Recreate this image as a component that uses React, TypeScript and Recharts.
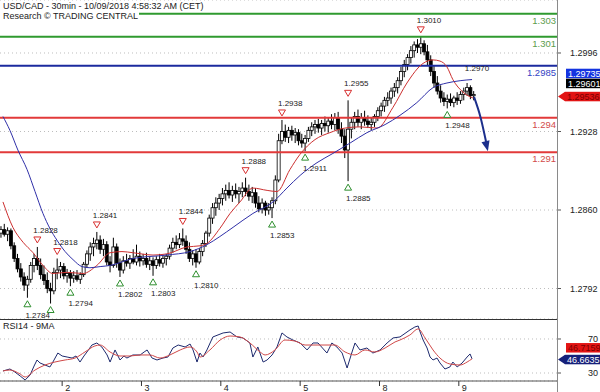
import React from 'react';
import { ComposedChart, Bar, Line, XAxis, YAxis, CartesianGrid, ReferenceLine, ReferenceDot } from 'recharts';

const FONT = 'Arial, "Liberation Sans", sans-serif';

// time axis: trading hours since Mon 1 Oct 00:00 (weekend skipped), one candle per hour
const firstBarHour = 5.5;
const timeDomain: [number, number] = [5.2, 173.7];
const dayTicks = [24, 48, 72, 96, 120, 144];
const dayLabels = ['2', '3', '4', '5', '8', '9'];

const candleOpen = [
  1.2840, 1.2843, 1.2839, 1.2842, 1.2829, 1.2818, 1.2809, 1.2802, 1.2795, 1.2800, 1.2812, 1.2818,
  1.2812, 1.2804, 1.2799, 1.2792, 1.2790, 1.2806, 1.2808, 1.2811, 1.2803, 1.2805, 1.2801, 1.2803,
  1.2800, 1.2804, 1.2813, 1.2822, 1.2828, 1.2831, 1.2834, 1.2826, 1.2830, 1.2815, 1.2812, 1.2828,
  1.2814, 1.2808, 1.2816, 1.2814, 1.2818, 1.2815, 1.2820, 1.2816, 1.2818, 1.2813, 1.2816, 1.2812,
  1.2817, 1.2814, 1.2818, 1.2820, 1.2827, 1.2832, 1.2830, 1.2835, 1.2833, 1.2826, 1.2818, 1.2822,
  1.2815, 1.2824, 1.2831, 1.2840, 1.2853, 1.2862, 1.2866, 1.2870, 1.2874, 1.2877, 1.2873, 1.2877,
  1.2874, 1.2876, 1.2879, 1.2876, 1.2872, 1.2875, 1.2866, 1.2861, 1.2866, 1.2860, 1.2862, 1.2868,
  1.2886, 1.2920, 1.2928, 1.2923, 1.2929, 1.2925, 1.2927, 1.2920, 1.2918, 1.2922, 1.2929, 1.2932,
  1.2934, 1.2931, 1.2935, 1.2933, 1.2937, 1.2934, 1.2940, 1.2930, 1.2924, 1.2912, 1.2930, 1.2936,
  1.2941, 1.2936, 1.2940, 1.2937, 1.2934, 1.2936, 1.2941, 1.2946, 1.2950, 1.2955, 1.2957, 1.2963,
  1.2966, 1.2972, 1.2980, 1.2986, 1.2992, 1.2998, 1.3003, 1.3001, 1.3004, 1.2997, 1.2990, 1.2980,
  1.2970, 1.2963, 1.2957, 1.2954, 1.2956, 1.2953, 1.2957, 1.2955, 1.2960, 1.2963, 1.2966, 1.2959,
];
const candleHigh = [
  1.2846, 1.2848, 1.2845, 1.2844, 1.2832, 1.2822, 1.2814, 1.2806, 1.2803, 1.2815, 1.2822, 1.2828,
  1.2818, 1.2812, 1.2806, 1.2797, 1.2810, 1.2818, 1.2815, 1.2814, 1.2809, 1.2808, 1.2807, 1.2808,
  1.2806, 1.2815, 1.2825, 1.2832, 1.2836, 1.2841, 1.2838, 1.2835, 1.2833, 1.2820, 1.2836, 1.2831,
  1.2818, 1.2820, 1.2822, 1.2821, 1.2826, 1.2830, 1.2824, 1.2822, 1.2823, 1.2820, 1.2819, 1.2820,
  1.2822, 1.2821, 1.2822, 1.2830, 1.2836, 1.2838, 1.2840, 1.2844, 1.2838, 1.2832, 1.2825, 1.2826,
  1.2827, 1.2834, 1.2842, 1.2856, 1.2866, 1.2871, 1.2874, 1.2879, 1.2882, 1.2884, 1.2881, 1.2883,
  1.2880, 1.2884, 1.2888, 1.2882, 1.2880, 1.2879, 1.2872, 1.2870, 1.2868, 1.2866, 1.2871, 1.2890,
  1.2926, 1.2938, 1.2934, 1.2932, 1.2933, 1.2931, 1.2930, 1.2926, 1.2925, 1.2932, 1.2936, 1.2938,
  1.2939, 1.2938, 1.2941, 1.2940, 1.2943, 1.2944, 1.2945, 1.2936, 1.2930, 1.2955, 1.2940, 1.2945,
  1.2947, 1.2944, 1.2946, 1.2942, 1.2940, 1.2943, 1.2949, 1.2953, 1.2958, 1.2962, 1.2966, 1.2970,
  1.2975, 1.2984, 1.2990, 1.2995, 1.3002, 1.3006, 1.3008, 1.3010, 1.3007, 1.3003, 1.2994, 1.2985,
  1.2976, 1.2968, 1.2962, 1.2960, 1.2961, 1.2959, 1.2962, 1.2963, 1.2966, 1.2970, 1.2968, 1.2963,
];
const candleLow = [
  1.2836, 1.2837, 1.2833, 1.2826, 1.2815, 1.2806, 1.2798, 1.2790, 1.2784, 1.2797, 1.2806, 1.2808,
  1.2800, 1.2795, 1.2788, 1.2779, 1.2787, 1.2800, 1.2801, 1.2800, 1.2797, 1.2794, 1.2797, 1.2798,
  1.2796, 1.2802, 1.2810, 1.2816, 1.2820, 1.2826, 1.2822, 1.2820, 1.2812, 1.2806, 1.2810, 1.2810,
  1.2802, 1.2805, 1.2811, 1.2809, 1.2813, 1.2812, 1.2811, 1.2812, 1.2810, 1.2808, 1.2803, 1.2809,
  1.2811, 1.2810, 1.2812, 1.2817, 1.2823, 1.2826, 1.2827, 1.2829, 1.2822, 1.2815, 1.2812, 1.2810,
  1.2813, 1.2820, 1.2828, 1.2837, 1.2848, 1.2855, 1.2860, 1.2864, 1.2868, 1.2870, 1.2867, 1.2870,
  1.2866, 1.2871, 1.2872, 1.2868, 1.2866, 1.2862, 1.2858, 1.2857, 1.2855, 1.2856, 1.2853, 1.2865,
  1.2884, 1.2917, 1.2919, 1.2918, 1.2920, 1.2918, 1.2916, 1.2914, 1.2911, 1.2919, 1.2924, 1.2926,
  1.2927, 1.2925, 1.2928, 1.2927, 1.2930, 1.2929, 1.2926, 1.2918, 1.2905, 1.2885, 1.2922, 1.2930,
  1.2932, 1.2930, 1.2933, 1.2931, 1.2929, 1.2932, 1.2937, 1.2941, 1.2945, 1.2950, 1.2952, 1.2958,
  1.2961, 1.2968, 1.2975, 1.2981, 1.2987, 1.2992, 1.2996, 1.2995, 1.2994, 1.2985, 1.2976, 1.2966,
  1.2960, 1.2953, 1.2950, 1.2948, 1.2950, 1.2949, 1.2951, 1.2952, 1.2955, 1.2959, 1.2956, 1.2955,
];
const candleClose = [
  1.2843, 1.2839, 1.2842, 1.2829, 1.2818, 1.2809, 1.2802, 1.2795, 1.2800, 1.2812, 1.2818, 1.2812,
  1.2804, 1.2799, 1.2792, 1.2790, 1.2806, 1.2808, 1.2811, 1.2803, 1.2805, 1.2801, 1.2803, 1.2800,
  1.2804, 1.2813, 1.2822, 1.2828, 1.2831, 1.2834, 1.2826, 1.2830, 1.2815, 1.2812, 1.2828, 1.2814,
  1.2808, 1.2816, 1.2814, 1.2818, 1.2815, 1.2820, 1.2816, 1.2818, 1.2813, 1.2816, 1.2812, 1.2817,
  1.2814, 1.2818, 1.2820, 1.2827, 1.2832, 1.2830, 1.2835, 1.2833, 1.2826, 1.2818, 1.2822, 1.2815,
  1.2824, 1.2831, 1.2840, 1.2853, 1.2862, 1.2866, 1.2870, 1.2874, 1.2877, 1.2873, 1.2877, 1.2874,
  1.2876, 1.2879, 1.2876, 1.2872, 1.2875, 1.2866, 1.2861, 1.2866, 1.2860, 1.2862, 1.2868, 1.2886,
  1.2920, 1.2928, 1.2923, 1.2929, 1.2925, 1.2927, 1.2920, 1.2918, 1.2922, 1.2929, 1.2932, 1.2934,
  1.2931, 1.2935, 1.2933, 1.2937, 1.2934, 1.2940, 1.2930, 1.2924, 1.2912, 1.2930, 1.2936, 1.2941,
  1.2936, 1.2940, 1.2937, 1.2934, 1.2936, 1.2941, 1.2946, 1.2950, 1.2955, 1.2957, 1.2963, 1.2966,
  1.2972, 1.2980, 1.2986, 1.2992, 1.2998, 1.3003, 1.3001, 1.3004, 1.2997, 1.2990, 1.2980, 1.2970,
  1.2963, 1.2957, 1.2954, 1.2956, 1.2953, 1.2957, 1.2955, 1.2960, 1.2963, 1.2966, 1.2959, 1.2960,
];

// moving averages (red = fast, blue = slow)
const maFastT = [6.1, 9.1, 12.2, 15.2, 18.2, 21.2, 25.5, 30.3, 34.5, 38.5, 42.1, 45.4, 51.5, 55.7, 61.8, 65.7, 67.8, 71.7, 74.8, 77.8, 81.7, 86, 89, 92.9, 95.9, 100.5, 105, 109.6, 114.1, 119.3, 124.1, 128.3, 133.2, 136.2, 138.3, 140.4, 142.2, 145.3, 148.3];
const maFastP = [1.2867, 1.2845, 1.2832, 1.2823, 1.2812, 1.2805, 1.2806, 1.2805, 1.2812, 1.2823, 1.2824, 1.2823, 1.2821, 1.2822, 1.2828, 1.2829, 1.2831, 1.2844, 1.2857, 1.2867, 1.2879, 1.2877, 1.2876, 1.2895, 1.2908, 1.2921, 1.2927, 1.2931, 1.2932, 1.2931, 1.2949, 1.2970, 1.2987, 1.2990, 1.2989, 1.2984, 1.2973, 1.2962, 1.2957];
const maSlowT = [6.1, 8.2, 10.6, 13.4, 15.8, 18.2, 20.3, 22.4, 24.9, 27.3, 30, 32.4, 35.5, 38.5, 45.4, 55.7, 62.7, 67.8, 71.7, 75.7, 81.7, 87.8, 92, 96, 101.1, 105.9, 111.1, 116.2, 121.7, 126.2, 131.3, 136.2, 140.4, 144.4, 148];
const maSlowP = [1.2941, 1.2929, 1.2912, 1.2895, 1.2876, 1.2857, 1.2844, 1.2834, 1.2824, 1.2817, 1.2811, 1.2810, 1.2811, 1.2812, 1.2818, 1.2821, 1.2824, 1.2830, 1.2837, 1.2845, 1.2857, 1.2867, 1.2879, 1.2890, 1.2901, 1.2909, 1.2918, 1.2927, 1.2934, 1.2942, 1.2953, 1.2966, 1.2970, 1.2972, 1.2973];

// pivots
const highT = [16.5, 22.5, 34.5, 60.5, 79.5, 90.5, 110.5, 132.5];
const highP = [1.2828, 1.2818, 1.2841, 1.2844, 1.2888, 1.2938, 1.2955, 1.3010];
const lowT = [13.5, 20.5, 26.5, 41.5, 51.5, 64.5, 87.5, 97.5, 110.5, 140.5];
const lowP = [1.2784, 1.2779, 1.2794, 1.2802, 1.2803, 1.2810, 1.2853, 1.2911, 1.2885, 1.2948];

// support / resistance levels
const levelP = [1.303, 1.301, 1.2985, 1.294, 1.291];
const levelText = ['1.303', '1.301', '1.2985', '1.294', '1.291'];
const levelStroke = ['#2f9a2f', '#2f9a2f', '#1b2a9e', '#e23a3a', '#e23a3a'];
const levelTextColor = ['#5c9c4c', '#5c9c4c', '#3444c4', '#d24a4a', '#d24a4a'];

const targetT = 149.5;
const targetP = 1.2970;

// forecast arrow
const arrowT = [148.6, 150.6, 152.4];
const arrowP = [1.2958, 1.2940, 1.2917];
const arrowTip = { t: 152.8, p: 1.2911 };

const priceTicks = [1.2792, 1.2860, 1.2928, 1.2996];
const priceDomain: [number, number] = [1.27656, 1.30419];

// last value tags
const priceTagP = [1.29735, 1.29601, 1.29536];
const priceTagBg = ['#1434e0', '#000000', '#e21414'];
const priceTagFg = ['#ffffff', '#ffffff', '#7a0000'];
const priceTagDy = [-5.5, -11, -5.4];
const priceTagArrow = [false, false, true];

// RSI
const rsiT = [6.1, 8.2, 9.7, 11.3, 12.8, 14.3, 15.5, 16.4, 17.3, 18.8, 20.3, 21.2, 22.7, 24, 25.5, 27, 28.2, 29.4, 30.6, 31.5, 33, 34.5, 36, 37.6, 38.5, 40, 41.5, 42.7, 43.6, 45.4, 47.6, 48.8, 49.7, 51.2, 52.7, 54.5, 56, 57.5, 59.1, 61.2, 62.7, 63.6, 64.8, 65.7, 66.6, 67.8, 69.6, 72.7, 74.8, 76.9, 78.7, 80.8, 81.7, 83.2, 84.8, 86, 87.5, 89, 90.5, 92, 93.8, 96, 98.1, 99.9, 101.4, 104.1, 105.6, 107.1, 108.7, 110.2, 111.7, 112.6, 114.1, 116.2, 118, 120.2, 122.3, 124.1, 126.2, 129.2, 130.7, 131.7, 132.3, 133.2, 134.4, 135.3, 136.2, 137.4, 138.3, 139.8, 141.3, 142.2, 143.5, 145, 146.5, 147.4, 148];
const rsiV = [32.4, 34.7, 31.2, 26.5, 21.8, 27.6, 38.2, 45.3, 41.8, 39.4, 37.1, 42.9, 53.5, 50, 48.8, 47.6, 50, 42.9, 50, 54.7, 62.9, 65.3, 60.6, 51.2, 42.9, 57.1, 45.3, 50, 47.6, 51.2, 51.2, 54.7, 57.1, 47.6, 45.3, 47.6, 48.8, 59.4, 62.9, 60.6, 64.1, 57.1, 42.9, 53.5, 48.8, 57.1, 72.4, 77.1, 78.2, 72.4, 71.2, 65.3, 48.8, 60.6, 42.9, 45.3, 51.2, 60.6, 77.1, 72.4, 68.8, 65.3, 57.1, 65.3, 65.3, 53.5, 65.3, 60.6, 53.5, 35.9, 54.7, 65.3, 57.1, 59.4, 53.5, 57.1, 65.3, 71.2, 72.4, 80.6, 84.1, 85.3, 78.2, 68.8, 59.4, 48.8, 45.3, 47.6, 41.8, 34.7, 37.1, 42.9, 37.1, 41.8, 48.8, 52.4, 46.7];
const rsiMaT = [6.1, 8.2, 11.3, 12.8, 15.8, 18.8, 21.8, 24.9, 27.9, 30.9, 33.9, 35.5, 38.5, 41.5, 44.5, 47.6, 50.6, 53.6, 56.6, 59.7, 62.7, 64.8, 65.7, 68.7, 71.8, 74.8, 77.8, 80.8, 83.9, 85.4, 88.4, 91.4, 94.4, 97.5, 100.5, 103.5, 106.5, 109.6, 112.6, 115.6, 118.6, 121.7, 124.7, 126.2, 129.2, 131.7, 133.8, 136.2, 138.3, 141.3, 144.4, 146.5, 148];
const rsiMaV = [32.4, 33.5, 28.8, 25.3, 33.5, 39.4, 42.9, 45.3, 47.6, 54.7, 61.8, 62.9, 54.7, 50, 50, 51.2, 51.2, 47.6, 51.2, 57.1, 60.6, 54.7, 48.8, 57.1, 68.8, 73.5, 72.4, 65.3, 54.7, 51.2, 57.1, 68.8, 67.6, 62.9, 62.9, 62.9, 62.9, 54.7, 51.2, 57.1, 54.7, 59.4, 66.5, 68.8, 74.7, 81.8, 71.2, 57.1, 47.6, 40.6, 39.4, 42.9, 46.7];
const rsiTicks = [30, 50, 70];
const rsiDomain: [number, number] = [20.6, 93.5];
const rsiTagV = [46.7159, 46.6635];
const rsiTagBg = ['#e21414', '#15207a'];
const rsiTagFg = ['#7a0000', '#ffffff'];
const rsiTagDy = [-11, 0.7];
const rsiTagArrow = [false, true];

const MAIN_H = 319;

const candles = candleOpen.map((o, i) => ({
  t: firstBarHour + i, o, h: candleHigh[i], l: candleLow[i], c: candleClose[i],
}));
const maFast = maFastT.map((t, i) => ({ t, v: maFastP[i] }));
const maSlow = maSlowT.map((t, i) => ({ t, v: maSlowP[i] }));
const arrowLine = arrowT.map((t, i) => ({ t, v: arrowP[i] }));
const rsi = rsiT.map((t, i) => ({ t, v: rsiV[i] }));
const rsiMa = rsiMaT.map((t, i) => ({ t, v: rsiMaV[i] }));

const Candle = (props: any) => {
  const { x, y, width, height, payload } = props;
  if (!payload || height == null) return null;
  const top = Math.min(y, y + height);
  const span = Math.abs(height);
  const { o, h, l, c } = payload;
  const py = (v: number) => top + (h === l ? 0 : ((h - v) / (h - l)) * span);
  const cx = x + width / 2;
  const yo = py(o);
  const yc = py(c);
  const bt = Math.min(yo, yc);
  const bh = Math.max(1, Math.abs(yo - yc));
  const up = c >= o;
  return (
    <g>
      <line x1={cx} x2={cx} y1={top} y2={top + span} stroke="#000" strokeWidth={1} />
      <rect x={cx - 1.5} y={bt} width={3} height={bh} fill={up ? '#fff' : '#000'} stroke="#000" strokeWidth={0.8} />
    </g>
  );
};

const HighMark = ({ cx, cy, text }: any) => (
  <g>
    <polygon points={`${cx - 3.5},${cy - 10} ${cx + 3.5},${cy - 10} ${cx},${cy - 4}`} fill="#fff" stroke="#d83030" strokeWidth={1} />
    <text x={cx - 4} y={cy - 14} fontSize={8} fill="#222" fontFamily={FONT}>{text}</text>
  </g>
);

// the label of a low that sits on the panel's bottom edge is cut off in the original
const LowMark = ({ cx, cy, text }: any) => (
  <g>
    <polygon points={`${cx - 3.5},${cy + 9} ${cx + 3.5},${cy + 9} ${cx},${cy + 3}`} fill="#fff" stroke="#2f8f2f" strokeWidth={1} />
    {cy + 20 <= MAIN_H && (
      <text x={cx - 2} y={cy + 20} fontSize={8} fill="#222" fontFamily={FONT}>{text}</text>
    )}
  </g>
);

const LevelLabel = ({ viewBox, text, color }: any) => {
  if (!viewBox) return null;
  return (
    <text x={viewBox.x + viewBox.width - 1} y={viewBox.y + 10} textAnchor="end" fontSize={9.5} fill={color} fontFamily={FONT}>
      {text}
    </text>
  );
};

const ValueTag = ({ viewBox, text, bg, fg, dy, arrow }: any) => {
  if (!viewBox) return null;
  const right = viewBox.x + viewBox.width;
  const cy = viewBox.y + dy;
  const x0 = right + (arrow ? 8 : 9);
  return (
    <g>
      {arrow && <polygon points={`${right + 1},${cy} ${x0},${cy - 4.75} ${x0},${cy + 4.75}`} fill={bg} />}
      <rect x={x0} y={cy - 4.75} width={600 - x0} height={9.5} fill={bg} />
      <text x={x0 + 2} y={cy + 3.3} fontSize={9} fill={fg} fontFamily={FONT}>{text}</text>
    </g>
  );
};

const DayTick = ({ x, y, payload }: any) => (
  <g>
    <line x1={x} x2={x} y1={y} y2={y + 5} stroke="#333" />
    <text x={x + 3} y={y + 10} fontSize={9} fill="#222" fontFamily={FONT}>
      {dayLabels[dayTicks.indexOf(payload.value)]}
    </text>
  </g>
);

const RsiTick = ({ x, y, payload }: any) =>
  payload.value === 50 ? <g /> : (
    <text x={x} y={y + 3} fontSize={9} fill="#222" fontFamily={FONT}>{payload.value}</text>
  );

export default function App() {
  return (
    <div style={{ position: 'absolute', left: 0, top: 0, width: 600, height: 392, background: '#fff', fontFamily: FONT, overflow: 'hidden' }}>
      <div style={{ position: 'absolute', left: 0, top: 0 }}>
        <ComposedChart width={600} height={MAIN_H} data={candles} margin={{ top: 0, right: 0, bottom: 0, left: 0 }}>
          <CartesianGrid vertical={false} stroke="#bdbdbd" strokeDasharray="1 3" />
          <XAxis type="number" dataKey="t" domain={timeDomain} hide allowDataOverflow />
          <YAxis
            orientation="right"
            width={43}
            domain={priceDomain}
            ticks={priceTicks}
            allowDataOverflow
            axisLine={false}
            tickLine={{ stroke: '#555' }}
            tickSize={4}
            tickMargin={9}
            tickFormatter={(v: number) => v.toFixed(4)}
            tick={{ fontSize: 9, fill: '#222', fontFamily: FONT }}
          />
          {levelP.map((p, i) => (
            <ReferenceLine key={'lv' + i} y={p} stroke={levelStroke[i]} strokeWidth={2}
              label={<LevelLabel text={levelText[i]} color={levelTextColor[i]} />} />
          ))}
          <Bar dataKey={(d: any) => [d.l, d.h]} barSize={3} shape={<Candle />} isAnimationActive={false} />
          <Line data={maFast} dataKey="v" type="monotone" stroke="#cc3030" strokeWidth={1} dot={false} activeDot={false} isAnimationActive={false} />
          <Line data={maSlow} dataKey="v" type="monotone" stroke="#3030a8" strokeWidth={1} dot={false} activeDot={false} isAnimationActive={false} />
          <Line data={arrowLine} dataKey="v" type="monotone" stroke="#1c2f8c" strokeWidth={2} dot={false} activeDot={false} isAnimationActive={false} />
          <ReferenceDot x={arrowTip.t} y={arrowTip.p} ifOverflow="visible"
            shape={(p: any) => (
              <polygon points={`${p.cx},${p.cy} ${p.cx + 1.6},${p.cy - 10.8} ${p.cx - 6.4},${p.cy - 8.8}`} fill="#1c2f8c" />
            )} />
          {highT.map((t, i) => (
            <ReferenceDot key={'hi' + i} x={t} y={highP[i]} ifOverflow="visible"
              shape={(p: any) => <HighMark cx={p.cx} cy={p.cy} text={highP[i].toFixed(4)} />} />
          ))}
          {lowT.map((t, i) => (
            <ReferenceDot key={'lo' + i} x={t} y={lowP[i]} ifOverflow="visible"
              shape={(p: any) => <LowMark cx={p.cx} cy={p.cy} text={lowP[i].toFixed(4)} />} />
          ))}
          <ReferenceDot x={targetT} y={targetP} ifOverflow="visible"
            shape={(p: any) => (
              <text x={p.cx} y={p.cy - 12} textAnchor="middle" fontSize={8} fill="#222" fontFamily={FONT}>{targetP.toFixed(4)}</text>
            )} />
          {priceTagP.map((p, i) => (
            <ReferenceLine key={'tag' + i} y={p} stroke="none" ifOverflow="visible"
              label={<ValueTag text={p.toFixed(5)} bg={priceTagBg[i]} fg={priceTagFg[i]} dy={priceTagDy[i]} arrow={priceTagArrow[i]} />} />
          ))}
        </ComposedChart>
      </div>

      <div style={{ position: 'absolute', left: 0, top: MAIN_H }}>
        <ComposedChart width={600} height={73} margin={{ top: 0, right: 0, bottom: 0, left: 0 }}>
          <CartesianGrid vertical={false} stroke="#bdbdbd" strokeDasharray="1 3" />
          <XAxis
            type="number"
            dataKey="t"
            domain={timeDomain}
            ticks={dayTicks}
            interval={0}
            allowDataOverflow
            height={11}
            axisLine={{ stroke: '#555' }}
            tickLine={false}
            tickSize={0}
            tickMargin={0}
            tick={<DayTick />}
          />
          <YAxis
            orientation="right"
            width={43}
            domain={rsiDomain}
            ticks={rsiTicks}
            allowDataOverflow
            axisLine={false}
            tickLine={{ stroke: '#555' }}
            tickSize={4}
            tickMargin={27}
            tick={<RsiTick />}
          />
          <Line data={rsi} dataKey="v" type="linear" stroke="#1e2a6e" strokeWidth={1} dot={false} activeDot={false} isAnimationActive={false} />
          <Line data={rsiMa} dataKey="v" type="monotone" stroke="#d04848" strokeWidth={1} dot={false} activeDot={false} isAnimationActive={false} />
          {rsiTagV.map((v, i) => (
            <ReferenceLine key={'rt' + i} y={v} stroke="none" ifOverflow="visible"
              label={<ValueTag text={v.toFixed(4)} bg={rsiTagBg[i]} fg={rsiTagFg[i]} dy={rsiTagDy[i]} arrow={rsiTagArrow[i]} />} />
          ))}
        </ComposedChart>
      </div>

      <div style={{ position: 'absolute', left: 0, top: MAIN_H, width: 557, height: 1, background: '#333' }} />
      <div style={{ position: 'absolute', left: 557, top: 0, width: 1, height: 392, background: '#8a8a8a' }} />

      <div style={{ position: 'absolute', left: 0, top: 1, fontSize: 9, lineHeight: '10px', color: '#222', whiteSpace: 'nowrap' }}>
        <div style={{ paddingLeft: 3 }}>USD/CAD - 30min - 10/09/2018 4:58:32 AM (CET)</div>
        <div><span style={{ background: '#fff', paddingLeft: 3, paddingRight: 1 }}>Research © TRADING CENTRAL</span></div>
      </div>
      <div style={{ position: 'absolute', left: 3, top: 321, fontSize: 9, lineHeight: '10px', color: '#222' }}>RSI14 - 9MA</div>
    </div>
  );
}
